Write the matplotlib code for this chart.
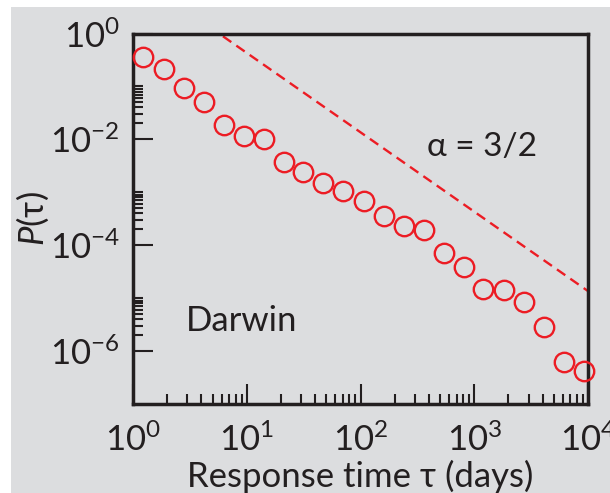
import matplotlib
matplotlib.use("Agg")
import matplotlib.pyplot as plt
import numpy as np
from matplotlib.patches import Rectangle
from matplotlib.ticker import FixedLocator, NullFormatter

# ---- data ----
response_time_days = [1.23, 1.87, 2.83, 4.24, 6.31, 9.46, 14.2, 21.2, 31.4, 47.1, 70.6,
                      107, 161, 242, 361, 542, 813, 1200, 1824, 2735, 4121, 6180, 9290]
probability = [0.365, 0.213, 0.0923, 0.0515, 0.0187, 0.0116, 0.0102, 3.69e-3, 2.45e-3,
               1.48e-3, 1.07e-3, 6.93e-4, 3.56e-4, 2.31e-4, 1.94e-4, 7.23e-5, 3.83e-5,
               1.51e-5, 1.43e-5, 8.57e-6, 2.89e-6, 6.30e-7, 4.26e-7]
alpha_exponent = 1.5
line_prefactor = 13.6
line_x_range = [1.0, 1.0e4]
x_major = [1e0, 1e1, 1e2, 1e3, 1e4]
x_major_labels = [r'$\mathregular{10^{0}}$', r'$\mathregular{10^{1}}$', r'$\mathregular{10^{2}}$',
                  r'$\mathregular{10^{3}}$', r'$\mathregular{10^{4}}$']
y_major = [1e0, 1e-2, 1e-4, 1e-6]
y_major_labels = [r'$\mathregular{10^{0}}$', r'$\mathregular{10^{-2}}$',
                  r'$\mathregular{10^{-4}}$', r'$\mathregular{10^{-6}}$']
y_minor_decades = [-2, -4, -6]

# ---- style ----
FONT = ['Lato', 'DejaVu Sans']
plt.rcParams['font.family'] = FONT
plt.rcParams['mathtext.fontset'] = 'custom'
plt.rcParams['mathtext.rm'] = 'Lato'
plt.rcParams['mathtext.it'] = 'Lato:italic'
plt.rcParams['mathtext.bf'] = 'Lato:bold'

RED = '#ec1c24'
INK = '#231f20'
GRAY = '#dcdddf'
H = 493

fig = plt.figure(figsize=(6.10, 4.93), dpi=100)
fig.patch.set_facecolor('white')
fig.patches.append(Rectangle((11 / 610, 0), 1 - 11 / 610, 1 - 7 / H,
                             transform=fig.transFigure, facecolor=GRAY,
                             edgecolor='none', zorder=-10))

ax = fig.add_axes([133 / 610, 1 - 404 / H, (588 - 133) / 610, (404 - 33.5) / H])
ax.set_facecolor('none')
ax.set_xscale('log')
ax.set_yscale('log')
ax.set_xlim(1, 1e4)
ax.set_ylim(1e-7, 1)

# power-law guide line
lx = np.logspace(np.log10(line_x_range[0]), np.log10(line_x_range[1]), 50)
line, = ax.plot(lx, line_prefactor * lx ** (-alpha_exponent), color=RED, lw=1.7, zorder=2)
line.set_dashes([4.3, 2.6])

ax.plot(response_time_days, probability, 'o', ms=14, mfc='none', mec=RED, mew=1.7,
        clip_on=False, zorder=3)

for s in ax.spines.values():
    s.set_linewidth(2.5)
    s.set_color(INK)

ax.xaxis.set_major_locator(FixedLocator(x_major))
ax.set_xticklabels(x_major_labels)
ax.xaxis.set_minor_locator(FixedLocator([k * 10.0 ** d for d in range(0, 4) for k in range(2, 10)]))
ax.xaxis.set_minor_formatter(NullFormatter())

ax.yaxis.set_major_locator(FixedLocator(y_major))
ax.set_yticklabels(y_major_labels)
ax.yaxis.set_minor_locator(FixedLocator([k * 10.0 ** d for d in y_minor_decades for k in range(2, 11)]))
ax.yaxis.set_minor_formatter(NullFormatter())

ax.tick_params(which='both', direction='in', top=False, right=False, color=INK, width=1.5)
ax.tick_params(which='major', length=14.4)
ax.tick_params(which='minor', length=7.2)
ax.tick_params(axis='x', which='major', pad=13.5, labelsize=25, labelcolor=INK)
ax.tick_params(axis='y', which='major', pad=9.5, labelsize=25, labelcolor=INK)

ax.set_xlabel('Response time τ (days)', fontsize=25, color=INK, labelpad=2)
ax.set_ylabel(r'$P$(τ)', fontsize=25, color=INK, labelpad=-1)

ax.text(186, H - 321, 'Darwin', transform=None, fontsize=25, color=INK, va='center', ha='left')
ax.text(482, H - 147, 'α = 3/2', transform=None, fontsize=24, color=INK, va='center', ha='center')

fig.savefig('out.png', dpi=100, facecolor=fig.get_facecolor())
